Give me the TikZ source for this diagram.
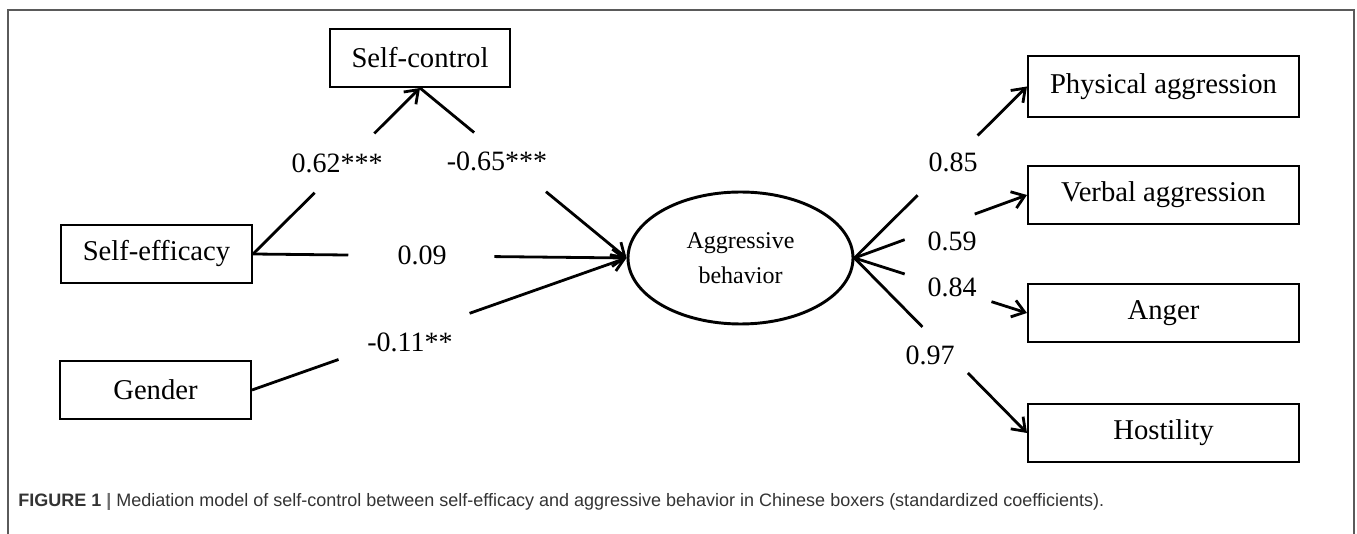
\documentclass[tikz,border=0pt]{standalone}
\usepackage{fontspec}
\setmainfont{Liberation Serif}
\newfontfamily\capfont{Liberation Sans}
\usepackage{tikz}
\usetikzlibrary{arrows.meta,shapes.geometric}
\definecolor{framegray}{HTML}{5A5A5A}
\definecolor{capgray}{HTML}{333333}
\definecolor{bargray}{HTML}{6E6E6E}
\tikzset{
  varbox/.style={draw,line width=1.5pt,inner sep=0pt,minimum height=43.5pt,font=\fontsize{21.5}{26}\selectfont},
  latent/.style={draw,ellipse,line width=2.2pt,inner sep=0pt,minimum width=168.75pt,minimum height=99pt,align=center,font=\fontsize{18}{26}\selectfont},
  coef/.style={inner sep=0pt,font=\fontsize{21}{25}\selectfont},
  link/.style={line width=2.1pt},
  linkarr/.style={link,-{Straight Barb[length=9pt,width=13pt]}}
}

\begin{document}
\begin{tikzpicture}[x=0.75pt,y=-0.75pt]
  \useasboundingbox (0,0) rectangle (1357,534);
  \draw[framegray,line width=1.2pt] (8,10) rectangle (1354,570);
  % observed variables and the latent one
  \node[varbox,minimum width=135pt] (sc) at (420,58) {Self-control};
  \node[varbox,minimum width=143.25pt] (se) at (156.5,254) {Self-efficacy};
  \node[varbox,minimum width=143.25pt] (gd) at (155.5,390) {Gender};
  \node[latent] (ab) at (740.5,258) {Aggressive\\behavior};
  \node[varbox,minimum width=203.25pt,minimum height=45.75pt] (pa) at (1163.5,86.5) {Physical aggression};
  \node[varbox,minimum width=203.25pt] (va) at (1163.5,195) {Verbal aggression};
  \node[varbox,minimum width=203.25pt] (an) at (1163.5,313) {Anger};
  \node[varbox,minimum width=203.25pt] (ho) at (1163.5,433) {Hostility};
  % paths, broken where the coefficient sits
  \foreach \src/\dst/\ta/\tb/\k in {se.east/sc.south/.369/.726/1,
      sc.south/ab.west/.262/.61/2, se.east/ab.west/.255/.646/3,
      gd.east/ab.west/.231/.581/4, ab.east/pa.west/.366/.714/5,
      ab.east/va.west/.291/.697/6, ab.east/an.west/.291/.794/7,
      ab.east/ho.west/.394/.657/8} {
    \path (\src) -- (\dst) coordinate[pos=\ta] (ga\k) coordinate[pos=\tb] (gb\k);
    \draw[link] (\src) -- (ga\k);
    \draw[linkarr] (gb\k) -- (\dst);
  }
  % coefficients
  \node[coef] (c1) at (337,163) {0.62***};
  \node[coef] (c2) at (497,161) {-0.65***};
  \node[coef] (c3) at (422,255) {0.09};
  \node[coef] (c4) at (410,342) {-0.11**};
  \node[coef] (c5) at (953,162) {0.85};
  \node[coef] (c6) at (952,241) {0.59};
  \node[coef] (c7) at (952,287) {0.84};
  \node[coef] (c8) at (930,355) {0.97};
  % caption
  \node[anchor=west,inner sep=0pt,text=capgray,font=\capfont\fontsize{13.5}{16}\selectfont] (cap) at (18,502)
    {\textbf{FIGURE 1} {\color{bargray}\textbf{|}} Mediation model of self-control between self-efficacy and aggressive behavior in Chinese boxers (standardized coefficients).};
\end{tikzpicture}
\end{document}
